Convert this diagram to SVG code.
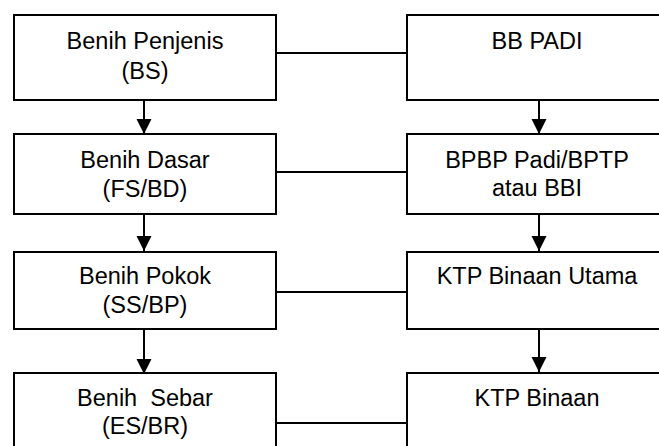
<svg xmlns="http://www.w3.org/2000/svg" width="659" height="446" viewBox="0 0 659 446">
<style>
.box{fill:#fff;stroke:#000;stroke-width:2}
.t{font-family:"Liberation Sans",Arial,sans-serif;font-size:23.5px;fill:#000;text-anchor:middle}
.c{stroke:#000;stroke-width:2;fill:none}
.a{stroke:#000;stroke-width:2;fill:none;marker-end:url(#ah)}
</style>
<defs>
<marker id="ah" markerUnits="userSpaceOnUse" markerWidth="16" markerHeight="16" viewBox="0 0 16 16" refX="15" refY="8" orient="auto">
<path d="M0,0.5 L15,8 L0,15.5 Z" fill="#000"/>
</marker>
</defs>
<rect width="659" height="446" fill="#fff"/>
<g id="connectors">
<line class="c" x1="276" y1="53" x2="407" y2="53"/>
<line class="c" x1="276" y1="172" x2="407" y2="172"/>
<line class="c" x1="276" y1="292" x2="407" y2="292"/>
<line class="c" x1="276" y1="423" x2="407" y2="423"/>
<line class="a" x1="144" y1="100" x2="144" y2="134"/>
<line class="a" x1="144" y1="214" x2="144" y2="251"/>
<line class="a" x1="144" y1="330" x2="144" y2="374"/>
<line class="a" x1="539" y1="100" x2="539" y2="134"/>
<line class="a" x1="539" y1="214" x2="539" y2="251"/>
<line class="a" x1="539" y1="329" x2="539" y2="372"/>
</g>
<g id="bs">
<rect class="box" x="14" y="15" width="262" height="85"/>
<text class="t" x="145" y="49">Benih Penjenis</text>
<text class="t" x="145" y="79">(BS)</text>
</g>
<g id="fs">
<rect class="box" x="14" y="134" width="262" height="80"/>
<text class="t" x="145" y="168">Benih Dasar</text>
<text class="t" x="145" y="197">(FS/BD)</text>
</g>
<g id="ss">
<rect class="box" x="14" y="252" width="262" height="77"/>
<text class="t" x="145" y="284">Benih Pokok</text>
<text class="t" x="145" y="313">(SS/BP)</text>
</g>
<g id="es">
<rect class="box" x="14" y="373" width="262" height="90"/>
<text class="t" x="145" y="406" xml:space="preserve">Benih  Sebar</text>
<text class="t" x="145" y="434">(ES/BR)</text>
</g>
<g id="bbpadi">
<rect class="box" x="407" y="15" width="264" height="85"/>
<text class="t" x="537" y="49">BB PADI</text>
</g>
<g id="bpbp">
<rect class="box" x="407" y="134" width="264" height="80"/>
<text class="t" x="537" y="168">BPBP Padi/BPTP</text>
<text class="t" x="537" y="196">atau BBI</text>
</g>
<g id="ktpu">
<rect class="box" x="407" y="252" width="264" height="77"/>
<text class="t" x="537" y="284">KTP Binaan Utama</text>
</g>
<g id="ktp">
<rect class="box" x="407" y="373" width="264" height="90"/>
<text class="t" x="537" y="406">KTP Binaan</text>
</g>
</svg>
